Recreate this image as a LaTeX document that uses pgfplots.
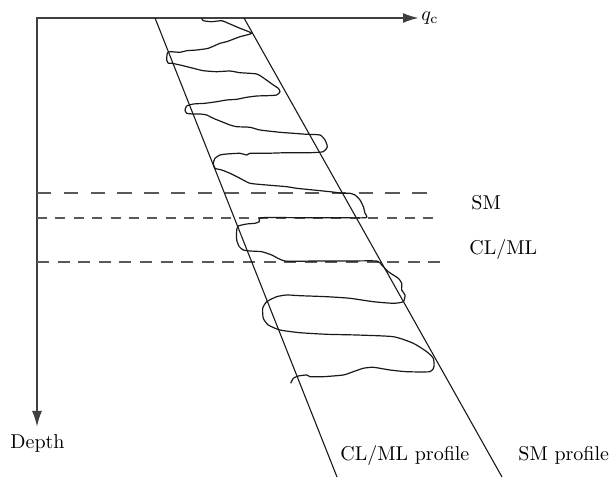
\documentclass[border=0pt]{standalone}
\usepackage{pgfplots}
\pgfplotsset{compat=1.18}
\usetikzlibrary{arrows.meta}

% one data unit = one pixel of the 610x477 sketch
\pgfplotstableread{
x y
201.7 18.3
203.3 20.7
211.7 21.7
221.7 20.7
228.3 23.3
240 28.3
251.7 33.3
240 36.7
226.7 41.7
220 43.3
208.3 48.3
196.7 50
186.7 50.7
180 52.3
170 51.7
167.3 53.3
166.7 60
168.3 63.3
171.7 63.3
180 65
193.3 68.3
203.3 70.7
216.7 71.7
230 71
240 72.7
256.7 74
265 79
273.3 85
278.3 88.3
280 91.7
276.7 95
266.7 95.7
256.7 96
246.7 97.3
236.7 99.3
226.7 100
216.7 101.7
205 103.3
193.3 104
186.7 106
185 110
186.7 113.3
193.3 114
200 114
206.7 115
213.3 118.3
221.7 121.7
230 125
236.7 126.7
250 127.3
260 130
280 132.3
293.3 133.3
306.7 134.3
320 135
325 140
327.3 146.7
323.3 151.7
310 152.7
286.7 152.7
266.7 153.3
250 153.3
246.7 155
240 153.3
226.7 154
220 155
215 158.3
213.3 163.3
215 168.3
221.7 170
230 173.3
240 178.3
250 183.3
266.7 185
286.7 186.7
296.7 188.3
313.3 190
330 191.7
343.3 193.3
350 193.3
355 195
360 200
363.3 206.7
365 213.3
365.7 217.7
333.3 217.7
300 217.7
261.7 217.7
259.3 221.7
255 223.3
246.7 224
238.3 226
236.7 230
236.7 240
239.3 246.7
243.3 250
250 251
261.7 251.7
271.7 255
285 261
316.7 261
350 261
376.7 261
381.7 265
388.3 271.7
398.3 278.3
401.7 283.3
401.7 290
405 295
403.3 301.7
393.3 303.3
373.3 301.7
350 298.3
326.7 296.7
300 295.7
286.7 295
276.7 296.7
266.7 301.7
262.7 308.3
263.3 318.3
268.3 325
280 330
300 332.7
326.7 334.3
356.7 335
393.3 336.7
413.3 343.3
426.7 351.7
433.3 358.3
434 366.7
430 371.7
406.7 371.7
390 370
373.3 367.3
363.3 368.3
353.3 371.7
343.3 375
323.3 376.7
310 376.7
306.7 375
298.3 376
293.3 378.3
290.7 383.3
}\profiledata

\begin{document}
\begin{tikzpicture}
\begin{axis}[
  scale only axis, width=305pt, height=238.5pt,
  xmin=0, xmax=610, ymin=0, ymax=477, y dir=reverse,
  hide axis, clip=false,
]
% frame corners so the page keeps the sketch's size
\addplot[draw=none] coordinates {(0,0) (610,477)};
% axes
\addplot[draw=black!75, line width=1pt,
  arrows={Latex[length=8pt,width=5pt]-Latex[length=8pt,width=5pt]}]
  coordinates {(37,427) (37,18) (419,18)};
% layer boundaries
\addplot[draw=black!65, line width=0.9pt, dash pattern=on 7.2pt off 6.2pt]
  coordinates {(37,193.3) (427,193.3)};
\addplot[draw=black!65, line width=0.9pt, dash pattern=on 5pt off 4.2pt]
  coordinates {(37,217.7) (441,217.7)};
\addplot[draw=black!65, line width=0.9pt, dash pattern=on 6pt off 4.3pt]
  coordinates {(37,261.7) (445,261.7)};
% profile lines
\addplot[black!90, line width=0.55pt] coordinates {(155,18) (337,477)};
\addplot[black!90, line width=0.55pt] coordinates {(244,18) (502,477)};
% measured trace
\addplot[black!90, line width=0.6pt, smooth, tension=0.35, line join=round]
  table {\profiledata};
% labels
\node[anchor=base west, inner sep=0pt] at (axis cs:421,21) {$q_{\mathrm{c}}$};
\node[anchor=base west, inner sep=0pt] at (axis cs:471,210) {SM};
\node[anchor=base west, inner sep=0pt] at (axis cs:469,255) {CL/ML};
\node[anchor=base, inner sep=0pt] at (axis cs:37.5,448) {Depth};
\node[anchor=base west, inner sep=0pt] at (axis cs:340,460) {CL/ML profile};
\node[anchor=base west, inner sep=0pt] at (axis cs:518,460) {SM profile};
\end{axis}
\end{tikzpicture}
\end{document}
